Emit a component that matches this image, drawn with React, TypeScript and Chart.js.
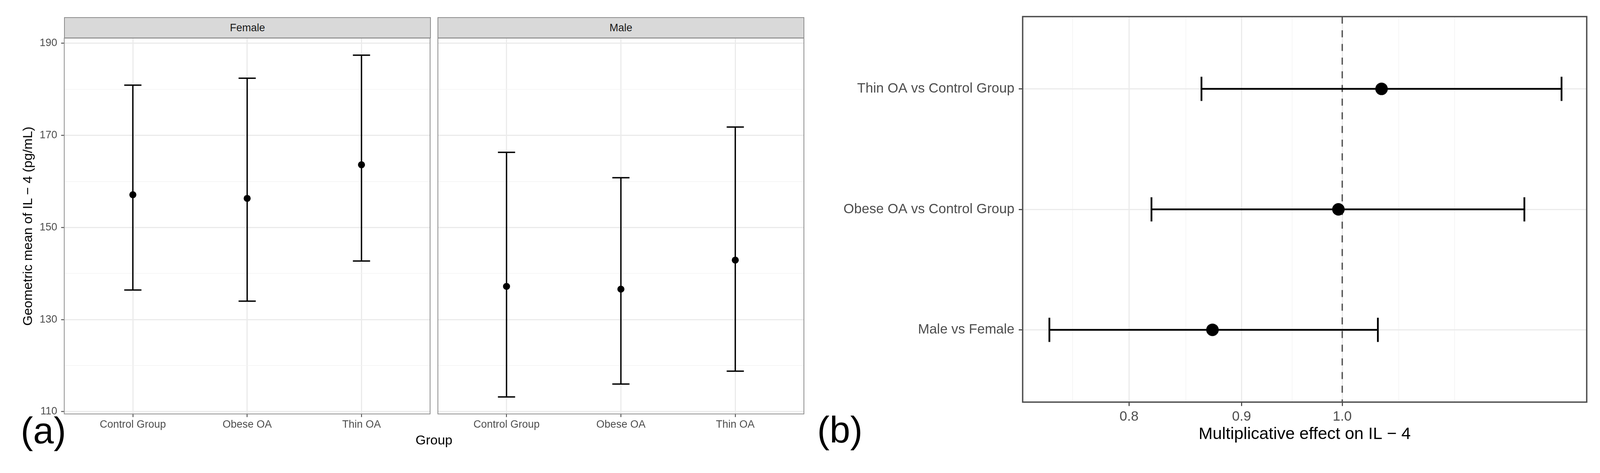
import React, { useEffect, useRef } from 'react';
import { Chart, registerables } from 'chart.js';

Chart.register(...registerables);

// ---------- data: panel (a) ----------
const groups = ['Control Group', 'Obese OA', 'Thin OA'];
const facets = ['Female', 'Male'];
const femaleMean = [157.1, 156.3, 163.6];
const femaleLower = [136.4, 134.0, 142.7];
const femaleUpper = [180.9, 182.4, 187.4];
const maleMean = [137.2, 136.6, 142.9];
const maleLower = [113.2, 116.0, 118.8];
const maleUpper = [166.3, 160.8, 171.8];
const yTicksA = [110, 120, 130, 140, 150, 160, 170, 180, 190];
const yLabelsA = [110, 130, 150, 170, 190];

// ---------- data: panel (b) ----------
const contrasts = ['Male vs Female', 'Obese OA vs Control Group', 'Thin OA vs Control Group'];
const effect = [0.873, 0.996, 1.042];
const effectLower = [0.736, 0.819, 0.863];
const effectUpper = [1.038, 1.21, 1.258];
const xTicksB = [0.8, 0.9, 1.0];
const xMinorB = [0.754, 0.849, 0.949, 1.061, 1.125];
const refLine = 1.0;

const FONT = "'Liberation Sans', Arial, Helvetica, sans-serif";
const TICK_GREY = '#4d4d4d';

const panelBorder = (color: string, width: number) => ({
  id: 'panelBorder',
  afterDraw(chart: any) {
    const { ctx, chartArea: a } = chart;
    ctx.save();
    ctx.strokeStyle = color;
    ctx.lineWidth = width;
    ctx.strokeRect(a.left, a.top, a.right - a.left, a.bottom - a.top);
    ctx.restore();
  },
});

const errorBars = (lower: number[], upper: number[], horizontal: boolean, capHalf: number, lw: number) => ({
  id: 'errorBars',
  beforeDatasetsDraw(chart: any) {
    const { ctx, scales } = chart;
    const x = scales.x;
    const y = scales.y;
    ctx.save();
    ctx.strokeStyle = '#000';
    ctx.lineWidth = lw;
    ctx.lineCap = 'butt';
    lower.forEach((lo, i) => {
      ctx.beginPath();
      if (!horizontal) {
        const px = x.getPixelForValue(i + 1);
        const y1 = y.getPixelForValue(lo);
        const y2 = y.getPixelForValue(upper[i]);
        ctx.moveTo(px, y1); ctx.lineTo(px, y2);
        ctx.moveTo(px - capHalf, y1); ctx.lineTo(px + capHalf, y1);
        ctx.moveTo(px - capHalf, y2); ctx.lineTo(px + capHalf, y2);
      } else {
        const py = y.getPixelForValue(i + 1);
        const x1 = x.getPixelForValue(lo);
        const x2 = x.getPixelForValue(upper[i]);
        ctx.moveTo(x1, py); ctx.lineTo(x2, py);
        ctx.moveTo(x1, py - capHalf); ctx.lineTo(x1, py + capHalf);
        ctx.moveTo(x2, py - capHalf); ctx.lineTo(x2, py + capHalf);
      }
      ctx.stroke();
    });
    ctx.restore();
  },
});

const vLine = {
  id: 'vLine',
  beforeDatasetsDraw(chart: any) {
    const { ctx, chartArea: a, scales } = chart;
    const px = scales.x.getPixelForValue(refLine);
    ctx.save();
    ctx.strokeStyle = '#555555';
    ctx.lineWidth = 3.5;
    ctx.setLineDash([18, 17]);
    ctx.beginPath();
    ctx.moveTo(px, a.top);
    ctx.lineTo(px, a.bottom);
    ctx.stroke();
    ctx.restore();
  },
};

function facetConfig(mean: number[], lower: number[], upper: number[], showY: boolean, yAxisW: number, padRight: number) {
  return {
    type: 'scatter',
    data: {
      datasets: [
        {
          data: mean.map((v, i) => ({ x: i + 1, y: v })),
          pointRadius: 9,
          pointHoverRadius: 9,
          pointBackgroundColor: '#000',
          pointBorderColor: '#000',
          pointBorderWidth: 0,
          showLine: false,
        },
      ],
    },
    options: {
      animation: false,
      responsive: false,
      devicePixelRatio: 1,
      events: [],
      layout: { padding: { top: 97.6, right: padRight, bottom: 0, left: 0 } },
      plugins: { legend: { display: false }, tooltip: { enabled: false } },
      scales: {
        x: {
          type: 'linear',
          min: 0.4,
          max: 3.6,
          afterBuildTicks: (s: any) => { s.ticks = groups.map((_, i) => ({ value: i + 1 })); },
          afterFit: (s: any) => { s.height = 1211 - 1059.8; },
          ticks: {
            autoSkip: false,
            maxRotation: 0,
            padding: 4,
            color: TICK_GREY,
            font: { family: FONT, size: 27 },
            callback: (v: number) => groups[v - 1] ?? '',
          },
          grid: { color: '#ebebeb', lineWidth: 3, tickLength: 8, tickColor: '#333333', tickWidth: 2 },
          border: { display: false },
        },
        y: {
          type: 'linear',
          min: 109.5,
          max: 191.1,
          afterBuildTicks: (s: any) => { s.ticks = yTicksA.map((v) => ({ value: v })); },
          afterFit: (s: any) => { s.width = yAxisW; },
          ticks: {
            display: showY,
            autoSkip: false,
            padding: 10,
            color: TICK_GREY,
            font: { family: FONT, size: 27 },
            callback: (v: number) => (yLabelsA.includes(v) ? String(v) : ''),
          },
          grid: {
            drawTicks: showY,
            color: (c: any) => (c.tick && yLabelsA.includes(c.tick.value) ? '#ebebeb' : '#f3f3f3'),
            lineWidth: (c: any) => (c.tick && yLabelsA.includes(c.tick.value) ? 3 : 1.6),
            tickLength: 8,
            tickWidth: 2,
            tickColor: (c: any) => (c.tick && yLabelsA.includes(c.tick.value) ? '#333333' : 'rgba(0,0,0,0)'),
          },
          border: { display: false },
        },
      },
    },
    plugins: [errorBars(lower, upper, false, 22, 3.5), panelBorder('#8c8c8c', 2)],
  };
}

function forestConfig() {
  const allX = [...xTicksB, ...xMinorB].sort((a, b) => a - b);
  return {
    type: 'scatter',
    data: {
      datasets: [
        {
          data: effect.map((v, i) => ({ x: v, y: i + 1 })),
          pointRadius: 16,
          pointHoverRadius: 16,
          pointBackgroundColor: '#000',
          pointBorderColor: '#000',
          pointBorderWidth: 0,
          showLine: false,
        },
      ],
    },
    options: {
      animation: false,
      responsive: false,
      devicePixelRatio: 1,
      events: [],
      layout: { padding: { top: 42.5, right: 35, bottom: 0, left: 0 } },
      plugins: { legend: { display: false }, tooltip: { enabled: false } },
      scales: {
        x: {
          type: 'logarithmic',
          min: 0.7157,
          max: 1.2916,
          afterBuildTicks: (s: any) => { s.ticks = allX.map((v) => ({ value: v })); },
          afterFit: (s: any) => { s.height = 1211 - 1029.5; },
          ticks: {
            autoSkip: false,
            maxRotation: 0,
            padding: 7,
            color: TICK_GREY,
            font: { family: FONT, size: 35 },
            callback: (v: number) => (xTicksB.includes(v) ? v.toFixed(1) : ''),
          },
          grid: {
            color: (c: any) => (c.tick && xTicksB.includes(c.tick.value) ? '#ebebeb' : '#f3f3f3'),
            lineWidth: (c: any) => (c.tick && xTicksB.includes(c.tick.value) ? 3 : 1.6),
            tickLength: 10,
            tickWidth: 2.5,
            tickColor: (c: any) => (c.tick && xTicksB.includes(c.tick.value) ? '#333333' : 'rgba(0,0,0,0)'),
          },
          border: { display: false },
          title: {
            display: true,
            text: 'Multiplicative effect on IL − 4',
            color: '#000',
            font: { family: FONT, size: 43 },
            padding: { top: 0, bottom: 73 },
          },
        },
        y: {
          type: 'linear',
          min: 0.4,
          max: 3.6,
          afterBuildTicks: (s: any) => { s.ticks = contrasts.map((_, i) => ({ value: i + 1 })); },
          afterFit: (s: any) => { s.width = 2618 - 2070; },
          ticks: {
            autoSkip: false,
            padding: 11,
            color: TICK_GREY,
            font: { family: FONT, size: 35 },
            callback: (v: number) => contrasts[v - 1] ?? '',
          },
          grid: { color: '#ebebeb', lineWidth: 3, tickLength: 10, tickWidth: 2.5, tickColor: '#333333' },
          border: { display: false },
        },
      },
    },
    plugins: [vLine, errorBars(effectLower, effectUpper, true, 31, 4.5), panelBorder('#4d4d4d', 3.5)],
  };
}

function ChartCanvas({ left, width, make }: { left: number; width: number; make: () => any }) {
  const ref = useRef<HTMLCanvasElement | null>(null);
  useEffect(() => {
    if (!ref.current) return;
    const chart = new Chart(ref.current, make());
    return () => chart.destroy();
  }, []);
  return (
    <canvas
      ref={ref}
      width={width}
      height={1211}
      style={{ position: 'absolute', left, top: 0, width, height: 1211 }}
    />
  );
}

const stripStyle = (left: number, width: number): React.CSSProperties => ({
  position: 'absolute',
  left,
  top: 44,
  width,
  height: 54,
  boxSizing: 'border-box',
  background: '#d9d9d9',
  border: '2px solid #8c8c8c',
  display: 'flex',
  alignItems: 'center',
  justifyContent: 'center',
  fontFamily: FONT,
  fontSize: 27,
  color: '#1a1a1a',
});

export default function App() {
  return (
    <div style={{ position: 'absolute', left: 0, top: 0, width: 4097, height: 1211, background: '#fff', overflow: 'hidden', fontFamily: FONT }}>
      <ChartCanvas left={0} width={1110} make={() => facetConfig(femaleMean, femaleLower, femaleUpper, true, 164.5, 8)} />
      <ChartCanvas left={1110} width={960} make={() => facetConfig(maleMean, maleLower, maleUpper, false, 11, 12)} />
      <ChartCanvas left={2070} width={2027} make={forestConfig} />

      <div style={stripStyle(164, 939)}>{facets[0]}</div>
      <div style={stripStyle(1120, 939)}>{facets[1]}</div>

      <div
        style={{
          position: 'absolute', left: 70, top: 578.7, transform: 'translate(-50%, -50%) rotate(-90deg)',
          whiteSpace: 'nowrap', fontSize: 34, color: '#000', lineHeight: 1,
        }}
      >
        Geometric mean of IL − 4 (pg/mL)
      </div>
      <div style={{ position: 'absolute', left: 1111, top: 1109, transform: 'translateX(-50%)', whiteSpace: 'nowrap', fontSize: 34, color: '#000', lineHeight: 1 }}>
        Group
      </div>
      <div style={{ position: 'absolute', left: 53, top: 1055, fontSize: 95, lineHeight: 1, color: '#000' }}>(a)</div>
      <div style={{ position: 'absolute', left: 2092, top: 1053, fontSize: 95, lineHeight: 1, color: '#000' }}>(b)</div>
    </div>
  );
}
